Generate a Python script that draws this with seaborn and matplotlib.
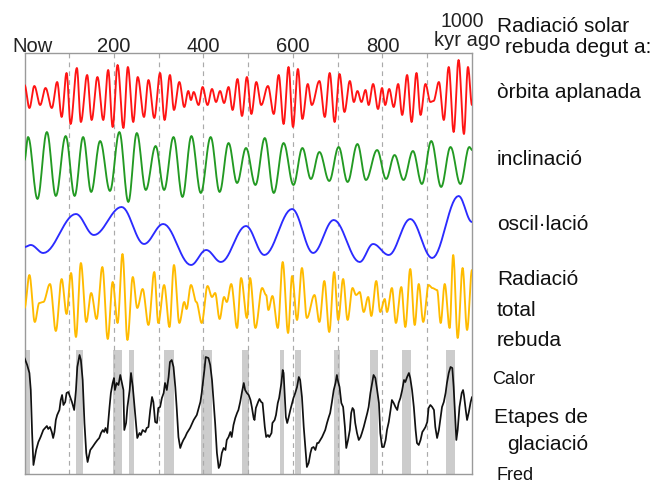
import numpy as np
import matplotlib
matplotlib.use("Agg")
import matplotlib.pyplot as plt
import matplotlib.transforms as mtransforms
import seaborn as sns

# ---------------- data (time in kyr before present, values in arbitrary units) ----------------
# extrema; curves are drawn smoothly through them
red_kyr = [0, 11, 22, 35, 47, 61, 73, 83, 94, 103, 117, 126, 140, 150, 163, 176, 187, 197, 208, 221,
           231, 243, 253, 267, 277, 290, 303, 313, 325, 334, 346, 357, 366, 372, 378, 389, 398, 409, 419, 428,
           437, 446, 456, 465, 476, 486, 497, 507, 518, 529, 544, 557, 568, 579, 590, 600, 611, 621, 633, 642,
           659, 671, 682, 693, 704, 715, 727, 736, 744, 753, 762, 769, 779, 790, 799, 806, 815, 825, 835, 844,
           855, 865, 876, 885, 896, 907, 914, 926, 937, 948, 959, 970, 982, 991, 1000]
red_val = [12, -11, 11, -8, 9, -11, 15, -20, 24, -27, 29, -25, 22, -23, 20, -23, 27, -30, 32, -31,
           30, -25, 20, -20, 17, -21, 24, -23, 22, -13, 15, -10, 6, -3, 5, -8, 10, -8, 8, -5,
           6, -6, 10, -13, 18, -19, 20, -17, 15, -8, 11, -17, 22, -27, 30, -30, 28, -22, 13, -8,
           16, -20, 24, -25, 23, -15, 16, -5, 6, -5, 7, -8, 13, -12, 9, -8, 8, -10, 13, -18,
           22, -25, 24, -18, 13, -5, -4, 15, -23, 30, -35, 37, -37, 30, -8]

green_kyr = [0, 8, 29, 50, 70, 92, 112, 131, 149, 169, 191, 212, 232, 251, 271, 293, 312, 333, 353, 373,
             394, 416, 436, 456, 475, 495, 516, 537, 557, 579, 601, 621, 640, 659, 681, 702, 722, 744, 763, 788,
             808, 827, 847, 868, 888, 909, 931, 952, 974, 994, 1000]
green_val = [6, 29, -33, 34, -30, 30, -30, 29, -26, 25, -25, 34, -36, 33, -24, 20, -24, 29, -31, 30,
             -27, 29, -26, 23, -17, 18, -19, 28, -27, 23, -19, 18, -13, 14, -15, 19, -16, 22, -14, 16,
             -13, 11, -14, 15, -18, 25, -21, 19, -18, 19, 16]

blue_kyr = [0, 14, 42, 115, 155, 217, 267, 310, 372, 406, 439, 495, 536, 598, 645, 691, 749, 779, 814,
            862, 911, 970, 1000]
blue_val = [-16, -14, -22, 17, -4, 24, -13, 7, -34, -19, -31, 5, -24, 22, -22, 11, -31, -13, -24,
            12, -27, 35, 9]

orange_kyr = [0, 11, 23, 33, 42, 57, 70, 83, 94, 104, 115, 126, 138, 149, 161, 174, 186, 197, 208, 219,
              230, 242, 252, 264, 277, 290, 299, 312, 324, 334, 346, 357, 362, 372, 384, 396, 409, 419, 426, 436,
              446, 452, 462, 475, 484, 497, 504, 516, 531, 540, 545, 554, 566, 577, 589, 598, 609, 620, 631, 648,
              659, 670, 681, 692, 701, 712, 722, 733, 741, 749, 758, 768, 775, 786, 795, 805, 810, 821, 830, 842,
              851, 862, 872, 881, 891, 903, 911, 922, 930, 939, 950, 958, 968, 979, 989, 1000]
orange_val = [-11, 22, -25, -6, -5, 13, -34, 18, -17, 24, -40, 34, -25, 4, -22, 30, -42, 15, -26, 43,
              -43, 20, -11, 8, -28, 25, -26, 12, -30, 32, -26, -5, -12, 12, -5, -26, 11, 0, 4, -22,
              0, -5, 13, -31, 19, -21, 19, -31, 9, 2, -13, 1, -31, 35, -36, 21, -23, 29, -21, 2,
              -25, 16, -35, 25, -23, 18, -23, 9, 2, 5, -15, 0, -19, 16, -15, -2, -15, 9, -26, 10,
              -30, 28, -28, 13, -25, 12, 9, 7, -26, 13, -31, 42, -41, 29, -33, 27]

black_kyr = [0, 6, 11, 14, 17, 20, 26, 31, 36, 42,
             46, 50, 53, 57, 61, 64, 67, 70, 73, 78,
             81, 84, 87, 91, 94, 98, 102, 106, 109, 111,
             115, 118, 123, 126, 130, 134, 138, 141, 147, 152,
             158, 163, 167, 171, 175, 178, 181, 185, 190, 193,
             197, 200, 202, 206, 210, 214, 221, 223, 227, 230,
             235, 238, 242, 246, 249, 252, 257, 260, 264, 270,
             273, 277, 281, 285, 288, 292, 296, 299, 303, 307,
             311, 314, 318, 322, 325, 329, 333, 337, 340, 344,
             348, 352, 355, 359, 363, 370, 378, 385, 393, 396,
             402, 405, 411, 415, 419, 422, 426, 430, 434, 437,
             441, 445, 449, 452, 456, 460, 463, 467, 471, 475,
             478, 482, 486, 490, 493, 497, 501, 505, 508, 512,
             514, 517, 522, 525, 529, 532, 537, 540, 544, 547,
             552, 554, 559, 562, 566, 569, 574, 577, 579, 581,
             584, 587, 590, 594, 598, 601, 605, 609, 613, 616,
             620, 624, 628, 631, 635, 639, 642, 646, 650, 654,
             657, 661, 665, 669, 672, 676, 680, 683, 687, 691,
             695, 698, 701, 704, 708, 712, 716, 719, 723, 727,
             730, 733, 736, 739, 743, 747, 751, 754, 758, 762,
             766, 769, 773, 777, 780, 784, 788, 792, 795, 799,
             803, 807, 810, 814, 818, 821, 825, 829, 833, 836,
             840, 844, 848, 851, 855, 859, 862, 866, 870, 874,
             877, 881, 885, 889, 892, 896, 900, 903, 907, 911,
             915, 918, 922, 926, 930, 933, 937, 941, 944, 948,
             952, 956, 959, 963, 965, 968, 972, 977, 980, 982,
             986, 989, 993, 997, 1000]
black_val = [54, 47, 39, 22, -21, -53, -38, -30, -25, -18,
             -16, -14, -17, -15, -20, -26, -20, -8, -3, 2,
             12, 17, 7, 10, 19, 20, 15, 10, 5, 2,
             22, 45, 57, 52, 32, -11, -41, -50, -38, -35,
             -31, -28, -26, -21, -18, -20, -16, -21, 5, 19,
             29, 34, 22, 29, 27, 37, 22, -18, -11, 5,
             22, 39, 25, 5, -11, -26, -21, -23, -18, -20,
             -16, -15, 2, 15, 10, -10, -11, 4, 5, 14,
             19, 29, 22, 35, 50, 52, 45, 25, 5, -25,
             -36, -31, -28, -25, -21, -16, -8, -3, 10, 19,
             42, 55, 54, 47, 32, 14, -11, -41, -56, -53,
             -41, -36, -38, -28, -25, -20, -25, -13, -6, -1,
             2, 10, 20, 29, 22, 19, 17, 12, 5, -6,
             -8, 4, 10, 13, 10, 9, -15, -25, -23, -25,
             -21, -11, -8, -3, 9, 14, 29, 42, 39, 22,
             -5, -11, -6, 2, 9, 14, 19, 25, 35, 32,
             15, -15, -38, -55, -51, -41, -36, -35, -38, -31,
             -31, -28, -25, -21, -18, -11, -5, -1, 10, 22,
             29, 37, 30, 25, 9, 5, -15, -36, -28, -18,
             -1, 4, 2, -11, -21, -28, -25, -21, -15, -8,
             -1, 5, 19, 29, 37, 34, 22, 9, -21, -35,
             -35, -28, -18, -10, 2, 12, 9, 5, 2, 9,
             14, 22, 32, 30, 35, 39, 34, 22, 5, -18,
             -31, -33, -28, -20, -18, -15, -10, 4, 7, 5,
             2, -15, -26, -18, -5, 5, 10, 19, 29, 39,
             45, 44, 25, -11, -28, -18, 5, 19, 22, 17,
             2, -8, 0, 10, 15]

# interglacial (warm) periods, shaded
band_start = [0, 114, 197, 234, 311, 394, 485, 570, 605, 691, 773, 844, 941]
band_end = [12, 130, 217, 244, 334, 420, 502, 581, 618, 704, 789, 864, 961]

ticks = [200, 400, 600, 800]
tick_labels = ["200", "400", "600", "800"]

# ---------------- layout / style ----------------
W, H = 652, 483
offsets = {"red": 377, "green": 308, "blue": 243, "orange": 177, "black": 62}
band_top = 124
y_top = 421

sns.set_theme(style="white")
plt.rcParams["font.family"] = ["Liberation Sans", "DejaVu Sans"]

fig = plt.figure(figsize=(W / 100, H / 100), dpi=100)
ax = fig.add_axes([24.5 / W, 9 / H, 447.5 / W, 421 / H])


def smooth(kyr, val, n=14):
    """Smooth rendering between the read extrema (cosine easing)."""
    xs, ys = [], []
    for i in range(len(kyr) - 1):
        t = np.linspace(0, 1, n, endpoint=False)
        e = (1 - np.cos(np.pi * t)) / 2
        xs.append(kyr[i] + (kyr[i + 1] - kyr[i]) * t)
        ys.append(val[i] + (val[i + 1] - val[i]) * e)
    xs.append([kyr[-1]])
    ys.append([val[-1]])
    return np.concatenate(xs), np.concatenate(ys)


# shaded glacial bands
for s, e in zip(band_start, band_end):
    ax.axvspan(s, e, ymin=0, ymax=band_top / y_top, color="#cccccc", lw=0, zorder=0)

# dashed 100-kyr guides
for xv in range(100, 1000, 100):
    ax.axvline(xv, color="#aaaaaa", lw=0.85, ls=(0, (4, 3.5)), zorder=1)

series = [
    (red_kyr, red_val, "red", "#ff1414"),
    (green_kyr, green_val, "green", "#239a23"),
    (blue_kyr, blue_val, "blue", "#2b2bff"),
    (orange_kyr, orange_val, "orange", "#ffbb00"),
]
for kyr, val, key, col in series:
    xs, ys = smooth(kyr, val)
    sns.lineplot(x=xs, y=ys + offsets[key], ax=ax, color=col, lw=1.35,
                 estimator=None, sort=False, zorder=3)

sns.lineplot(x=np.array(black_kyr), y=np.array(black_val) + offsets["black"], ax=ax,
             color="#111111", lw=1.25, estimator=None, sort=False, zorder=3)

ax.set_xlim(0, 1000)
ax.set_ylim(0, y_top)
ax.set_xticks([])
ax.set_yticks([])
ax.set_xlabel("")
ax.set_ylabel("")
for sp in ax.spines.values():
    sp.set_color("#9a9a9a")
    sp.set_linewidth(1.0)
    sp.set_visible(True)

# top tick labels (positions in data x)
xtrans = ax.get_xaxis_transform()


def off(dx, dy):
    return xtrans + mtransforms.ScaledTranslation(dx / 100, dy / 100, fig.dpi_scale_trans)


tick_fs = 14.5
for xv, lab in zip(ticks, tick_labels):
    ax.text(xv, 1, lab, transform=off(0, 1.3), ha="center", va="baseline",
            fontsize=tick_fs, color="#222222")
ax.text(0, 1, "Now", transform=off(8.5, 1.3), ha="center", va="baseline",
        fontsize=tick_fs, color="#222222")
ax.text(1000, 1, "1000", transform=off(-10, 26.3), ha="center", va="baseline",
        fontsize=tick_fs * 0.97, color="#222222")
ax.text(1000, 1, "kyr ago", transform=off(-4.5, 6.5), ha="center", va="baseline",
        fontsize=tick_fs, color="#222222")

# right-side labels
right_labels = [
    ("Radiació solar", 497, 32.3, 15),
    ("rebuda degut a:", 505, 53.3, 15),
    ("òrbita aplanada", 497, 97.5, 15),
    ("inclinació", 497, 165, 15),
    ("oscil·lació", 497, 230, 15),
    ("Radiació", 497, 285, 15),
    ("total", 497, 316, 15),
    ("rebuda", 497, 345.5, 15),
    ("Calor", 492, 384.5, 13),
    ("Etapes de", 494, 423, 15),
    ("glaciació", 507, 450, 15),
    ("Fred", 497, 480.5, 13),
]
for txt, px, py, fs in right_labels:
    fig.text(px / W, 1 - py / H, txt, ha="left", va="baseline", fontsize=fs, color="#111111")

fig.savefig("out.png", dpi=100)
